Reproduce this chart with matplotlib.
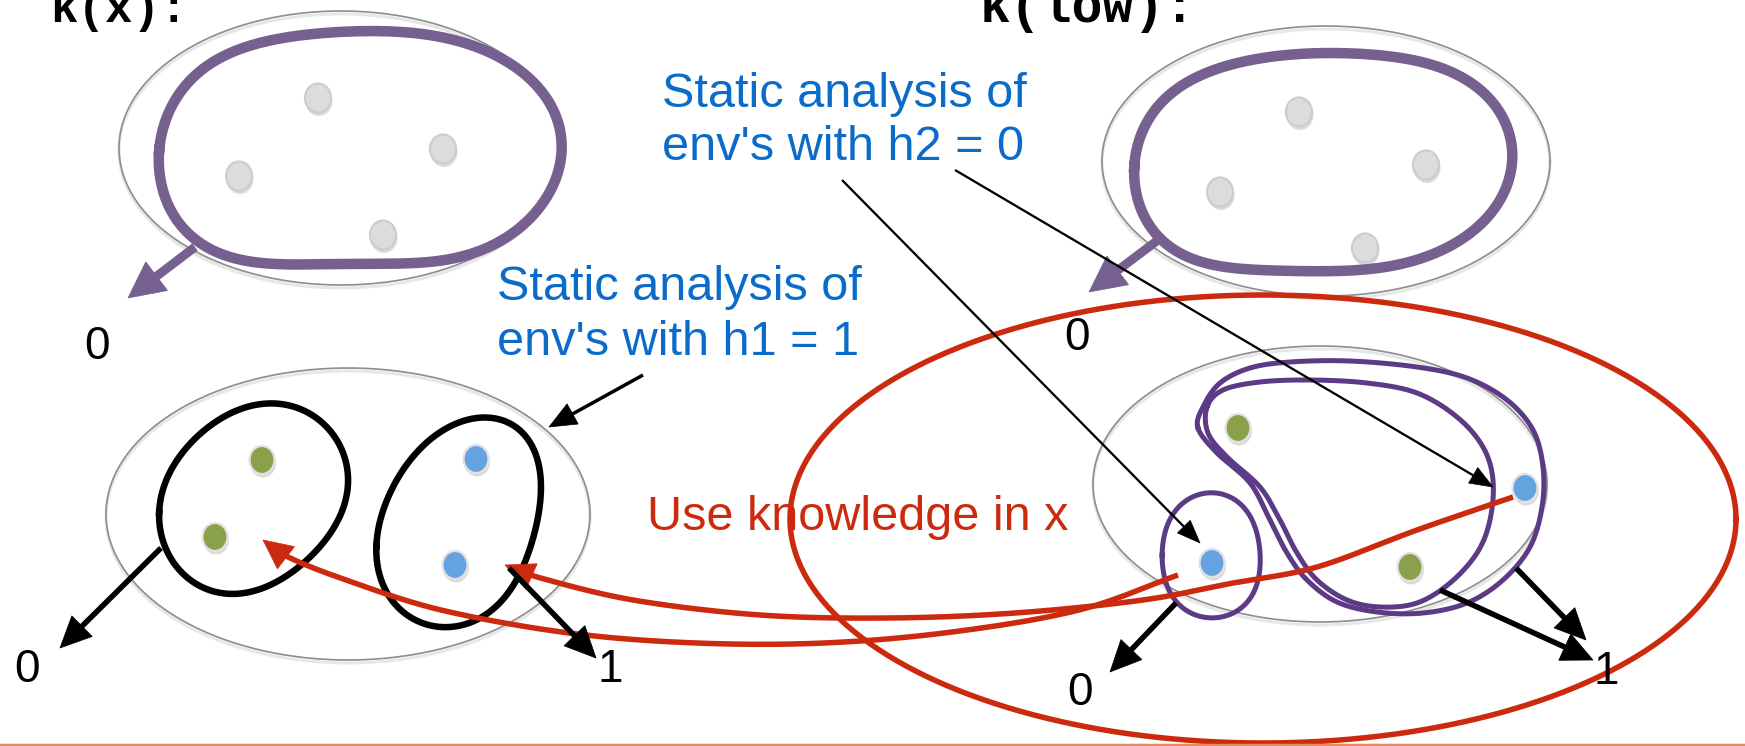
import numpy as np
import matplotlib
matplotlib.use("Agg")
import matplotlib.pyplot as plt
from matplotlib.patches import Polygon, Ellipse

W, H = 1745, 746
PX = 0.72  # points per pixel at dpi 100

# ---------------- data (pixel coordinates of the slide) ----------------
gray_ellipses = [((341, 148), 222, 137), ((1326, 161), 224, 135),
                 ((348, 514), 242, 146), ((1320, 484), 227, 138)]
red_ellipse = ((1263, 519), 473, 224)

blob_tl = [(161, 150), (168, 110), (191, 80), (230, 53), (287, 37), (364, 32),
           (421, 33), (478, 47), (524, 77), (555, 110), (563, 143), (551, 187),
           (528, 220), (490, 247), (421, 262), (344, 265), (268, 262), (210, 250),
           (180, 227), (165, 193)]
blob_tr = [(1135, 167), (1143, 127), (1168, 97), (1204, 73), (1254, 60), (1325, 53),
           (1396, 57), (1447, 70), (1482, 93), (1508, 127), (1513, 160), (1503, 193),
           (1477, 227), (1437, 253), (1381, 267), (1315, 272), (1234, 267), (1178, 253),
           (1153, 233), (1140, 200)]

gray_dots = [(318, 98), (443, 149), (239, 176), (383, 235),
             (1299, 112), (1426, 165), (1220, 192), (1365, 248)]
green_dots = [(262, 460), (215, 537), (1238, 428), (1410, 567)]
blue_dots = [(476, 459), (455, 565), (1525, 488), (1212, 563)]

loop_left = [(160, 513), (170, 470), (197, 437), (230, 413), (253, 407), (287, 403),
             (320, 423), (343, 453), (350, 480), (340, 513), (317, 550), (280, 580),
             (243, 593), (207, 590), (177, 567), (162, 537)]
loop_right = [(377, 547), (387, 497), (413, 457), (447, 430), (487, 417), (513, 423),
              (533, 447), (540, 480), (537, 520), (523, 567), (503, 600), (477, 620),
              (440, 627), (407, 613), (383, 587)]
purple_small = [(1162, 555), (1170, 520), (1190, 498), (1212, 493), (1236, 500),
                (1254, 525), (1260, 555), (1255, 590), (1236, 612), (1212, 617),
                (1185, 610), (1168, 588)]
outer_loop = [(1198, 428), (1203, 407), (1220, 383), (1250, 368), (1290, 362),
              (1350, 361), (1417, 367), (1467, 378), (1507, 400), (1533, 430),
              (1543, 467), (1542, 507), (1530, 547), (1503, 580), (1467, 603),
              (1423, 613), (1377, 612), (1337, 602), (1307, 580), (1287, 553),
              (1270, 520), (1250, 483), (1217, 453)]
inner_loop = [(1207, 407), (1223, 390), (1260, 382), (1310, 380), (1367, 383),
              (1417, 393), (1457, 417), (1483, 447), (1493, 480), (1490, 520),
              (1477, 553), (1450, 583), (1417, 603), (1380, 607), (1347, 600),
              (1317, 580), (1297, 553), (1280, 520), (1260, 487), (1227, 457),
              (1208, 433)]

red_curve_a = [(1513, 497), (1417, 530), (1317, 567), (1233, 583), (1143, 600),
               (1015, 613), (888, 618), (760, 615), (633, 600), (537, 577), (505, 565)]
red_curve_b = [(1178, 575), (1079, 610), (952, 632), (824, 643), (696, 643),
               (569, 633), (441, 610), (346, 580), (288, 557), (263, 540)]

purple_arrows = [((195, 247), (128, 298)), ((1158, 240), (1089, 292))]
thin_arrows = [((842, 180), (1200, 543)), ((955, 170), (1493, 487))]
mid_arrows = [((643, 375), (549, 427))]
thick_arrows = [((161, 548), (60, 648)), ((509, 568), (596, 658)),
                ((1176, 603), (1110, 672)), ((1440, 590), (1593, 660)),
                ((1516, 568), (1586, 640))]

digit_labels = [((97, 347), "0"), ((1077, 338), "0"), ((27, 670), "0"),
                ((610, 670), "1"), ((1080, 693), "0"), ((1606, 672), "1")]
blue_text = [((662, 107), "Static analysis of"), ((662, 160), "env's with h2 = 0"),
             ((497, 300), "Static analysis of"), ((497, 355), "env's with h1 = 1")]
red_text = ((647, 530), "Use knowledge in x")
code_text = [((50, 22), "k(x):", 33), ((980, 22), "k(low):", 37)]

# colours
C_GRAY = "#8e8e8e"
C_PURPLE_TOP = "#76608f"
C_PURPLE = "#5c3a85"
C_RED = "#cc2a0e"
C_BLUE_TXT = "#0a6cc8"
C_GREEN = "#8aa04b"
C_BLUE = "#64a2e0"
C_DOTGRAY = "#dcdcdc"

# ---------------- helpers ----------------
def catmull(pts, closed=False, n=24):
    P = np.asarray(pts, float)
    if closed:
        P = np.vstack([P[-1], P, P[0], P[1]])
    else:
        P = np.vstack([2 * P[0] - P[1], P, 2 * P[-1] - P[-2]])
    out = []
    for i in range(1, len(P) - 2):
        p0, p1, p2, p3 = P[i - 1], P[i], P[i + 1], P[i + 2]
        t = np.linspace(0, 1, n, endpoint=False)[:, None]
        out.append(0.5 * ((2 * p1) + (-p0 + p2) * t + (2 * p0 - 5 * p1 + 4 * p2 - p3) * t ** 2
                          + (-p0 + 3 * p1 - 3 * p2 + p3) * t ** 3))
    out = np.vstack(out)
    if closed:
        out = np.vstack([out, out[:2]])
    else:
        out = np.vstack([out, P[-2]])
    return out


def fourier_loop(pts, k=3, n=400):
    P = np.asarray(pts, float)
    Q = np.vstack([P, P[:1]])
    seg = np.hypot(*np.diff(Q, axis=0).T)
    s = np.concatenate([[0], np.cumsum(seg)[:-1]]) / seg.sum()
    def basis(u):
        cols = [np.ones_like(u)]
        for j in range(1, k + 1):
            cols += [np.cos(2 * np.pi * j * u), np.sin(2 * np.pi * j * u)]
        return np.column_stack(cols)
    A = basis(s)
    cx = np.linalg.lstsq(A, P[:, 0], rcond=None)[0]
    cy = np.linalg.lstsq(A, P[:, 1], rcond=None)[0]
    u = np.linspace(0, 1, n)
    B = basis(u)
    return B @ cx, B @ cy


def head(ax, tip, d, hl, hw, color, z):
    d = np.asarray(d, float)
    d = d / np.hypot(*d)
    nrm = np.array([-d[1], d[0]])
    tip = np.asarray(tip, float)
    base = tip - d * hl
    poly = [tip, base + nrm * hw / 2, base - nrm * hw / 2]
    ax.add_patch(Polygon(poly, closed=True, fc=color, ec=color, lw=0.5, zorder=z))
    return base


def arrow(ax, s, e, lw, color, hl, hw, z=6):
    s = np.asarray(s, float); e = np.asarray(e, float)
    u = (e - s) / np.hypot(*(e - s))
    base = head(ax, e, e - s, hl, hw, color, z)
    ax.plot([s[0], base[0] + u[0] * 2], [s[1], base[1] + u[1] * 2],
            color=color, lw=lw * PX, solid_capstyle="butt", zorder=z)


def dot(ax, c, color, edge, w, h):
    ax.add_patch(Ellipse((c[0] + 1, c[1] + 3), w + 1, h + 1, fc="#9a9a9a", ec="none",
                         alpha=0.35, zorder=3))
    ax.add_patch(Ellipse(c, w, h, fc=color, ec=edge, lw=1.6, zorder=4))


# ---------------- figure ----------------
fig = plt.figure(figsize=(W / 100, H / 100), dpi=100)
ax = fig.add_axes([0, 0, 1, 1])
ax.set_xlim(0, W)
ax.set_ylim(H, 0)
ax.axis("off")

t = np.linspace(0, 2 * np.pi, 400)
for (c, a, b) in gray_ellipses:
    ax.plot(c[0] + a * np.cos(t), c[1] + 3 + b * np.sin(t), color="#d0d0d0",
            lw=3 * PX, alpha=0.5, zorder=1)
    ax.plot(c[0] + a * np.cos(t), c[1] + b * np.sin(t), color=C_GRAY, lw=1.7 * PX, zorder=2)

for p in gray_dots:
    dot(ax, p, C_DOTGRAY, "#cdcdcd", 26, 29)
for p in green_dots:
    dot(ax, p, C_GREEN, "#e2e2e2", 25, 28)
for p in blue_dots:
    dot(ax, p, C_BLUE, "#e2e2e2", 25, 28)

for blob in (blob_tl, blob_tr):
    x, y = fourier_loop(blob, k=5)
    ax.plot(x, y, color=C_PURPLE_TOP, lw=10.5 * PX, zorder=5)
for s, e in purple_arrows:
    arrow(ax, s, e, 9, C_PURPLE_TOP, 36, 36, z=5)

for loop in (loop_left, loop_right):
    x, y = fourier_loop(loop, k=3)
    ax.plot(x, y, color="black", lw=6.5 * PX, zorder=5)

x, y = fourier_loop(purple_small, k=3)
ax.plot(x, y, color=C_PURPLE, lw=5 * PX, zorder=5)
for loop in (outer_loop, inner_loop):
    cc = catmull(loop, closed=True)
    ax.plot(cc[:, 0], cc[:, 1], color=C_PURPLE, lw=5 * PX, zorder=5,
            solid_joinstyle="round")

(c, a, b) = red_ellipse
ax.plot(c[0] + a * np.cos(t), c[1] + b * np.sin(t), color=C_RED, lw=5.5 * PX, zorder=6)

for curve in (red_curve_a, red_curve_b):
    cc = catmull(curve)
    d = cc[-1] - cc[-10]
    head(ax, cc[-1], d, 29, 28, C_RED, 6)
    dist = np.hypot(cc[:, 0] - cc[-1, 0], cc[:, 1] - cc[-1, 1])
    keep = dist > 26
    ax.plot(cc[keep, 0], cc[keep, 1], color=C_RED, lw=5.5 * PX, zorder=6,
            solid_capstyle="butt")

for s, e in thin_arrows:
    arrow(ax, s, e, 2.3, "black", 23, 18)
for s, e in mid_arrows:
    arrow(ax, s, e, 3.5, "black", 27, 23)
for s, e in thick_arrows:
    arrow(ax, s, e, 5.5, "black", 31, 29)

for (p, s) in digit_labels:
    ax.text(p[0], p[1], s, ha="center", va="center", fontsize=33,
            family="Liberation Sans", color="black", zorder=8)
for (p, s) in blue_text:
    ax.text(p[0], p[1], s, ha="left", va="baseline", fontsize=35,
            family="Liberation Sans", color=C_BLUE_TXT, zorder=8)
ax.text(red_text[0][0], red_text[0][1], red_text[1], ha="left", va="baseline",
        fontsize=35, family="Liberation Sans", color=C_RED, zorder=8)
for (p, s, fs) in code_text:
    ax.text(p[0], p[1], s, ha="left", va="baseline", fontsize=fs, weight="bold",
            family="Liberation Mono", color="black", zorder=8)

ax.plot([0, W], [744.5, 744.5], color="#e48a5e", lw=2.5 * PX, zorder=9)

fig.savefig("out.png", dpi=100)
